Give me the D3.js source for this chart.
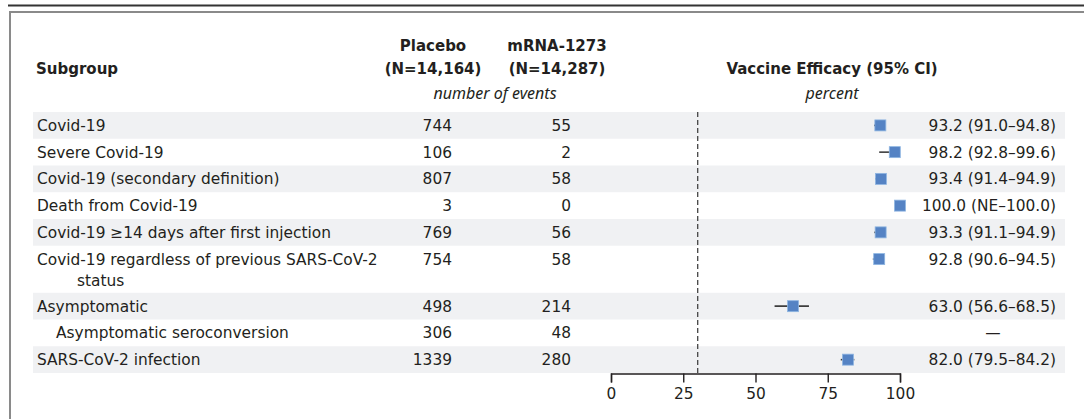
<!DOCTYPE html>
<html>
<head>
<meta charset="utf-8">
<script src="https://cdn.jsdelivr.net/npm/d3@7"></script>
<style>
  body { margin: 0; background: #fff; }
  svg text { font-family: "DejaVu Sans", sans-serif; fill: #231f20; }
  svg text.it { font-family: "Noto Sans", sans-serif; font-style: italic; }
</style>
</head>
<body>
<div id="chart"></div>
<script>
// data
const subgroups = [
    "Covid-19",
    "Severe Covid-19",
    "Covid-19 (secondary definition)",
    "Death from Covid-19",
    "Covid-19 \u226514 days after first injection",
    "Covid-19 regardless of previous SARS-CoV-2|status",
    "Asymptomatic",
    "Asymptomatic seroconversion",
    "SARS-CoV-2 infection"
];
const indent = [0, 0, 0, 0, 0, 0, 0, 1, 0];
const placeboEvents = [744, 106, 807, 3, 769, 754, 498, 306, 1339];
const vaccineEvents = [55, 2, 58, 0, 56, 58, 214, 48, 280];
const efficacy = [93.2, 98.2, 93.4, 100.0, 93.3, 92.8, 63.0, null, 82.0];
const ciLow = [91.0, 92.8, 91.4, null, 91.1, 90.6, 56.6, null, 79.5];
const ciHigh = [94.8, 99.6, 94.9, 100.0, 94.9, 94.5, 68.5, null, 84.2];
const efficacyLabels = [
    "93.2 (91.0\u201394.8)",
    "98.2 (92.8\u201399.6)",
    "93.4 (91.4\u201394.9)",
    "100.0 (NE\u2013100.0)",
    "93.3 (91.1\u201394.9)",
    "92.8 (90.6\u201394.5)",
    "63.0 (56.6\u201368.5)",
    "\u2014",
    "82.0 (79.5\u201384.2)"
];
const axisTicks = [0, 25, 50, 75, 100];
const thresholdLine = 30;

const width = 1084, height = 419;
const svg = d3.select('#chart').append('svg')
    .attr('width', width)
    .attr('height', height);

// frame
svg.append('line').attr('x1', 8).attr('x2', width).attr('y1', 5.5).attr('y2', 5.5)
    .attr('stroke', '#333').attr('stroke-width', 2);
svg.append('path').attr('d', `M${width},12 H10 V${height}`)
    .attr('fill', 'none').attr('stroke', '#8a8a8a').attr('stroke-width', 2);

// rows: the wrapped row takes a bit more room
const rowUnits = subgroups.map(s => s.includes('|') ? 1.76 : 1);
const rowStart = [0, ...d3.cumsum(rowUnits)];
const yScale = d3.scaleLinear()
    .domain([0, rowStart[rowStart.length - 1]])
    .range([112, 373]);

const xScale = d3.scaleLinear().domain([0, 100]).range([611, 900]);

// stripes
const rows = svg.append('g');
subgroups.forEach((s, i) => {
    if (i % 2 === 0) {
        rows.append('rect')
            .attr('x', 33).attr('width', 1032)
            .attr('y', yScale(rowStart[i]))
            .attr('height', yScale(rowStart[i + 1]) - yScale(rowStart[i]))
            .attr('fill', '#f0f1f3');
    }
});

// headers
const hdr = svg.append('g').attr('font-size', 15);
hdr.append('text').attr('x', 36).attr('y', 74).attr('font-weight', 'bold').text('Subgroup');
hdr.append('text').attr('x', 433).attr('y', 51).attr('text-anchor', 'middle').attr('font-weight', 'bold').text('Placebo');
hdr.append('text').attr('x', 433).attr('y', 74).attr('text-anchor', 'middle').attr('font-weight', 'bold').text('(N=14,164)');
hdr.append('text').attr('x', 557).attr('y', 51).attr('text-anchor', 'middle').attr('font-weight', 'bold').text('mRNA-1273');
hdr.append('text').attr('x', 557).attr('y', 74).attr('text-anchor', 'middle').attr('font-weight', 'bold').text('(N=14,287)');
hdr.append('text').attr('class', 'it').attr('x', 495).attr('y', 99).attr('text-anchor', 'middle').attr('font-size', 16).text('number of events');
hdr.append('text').attr('x', 832).attr('y', 74).attr('text-anchor', 'middle').attr('font-weight', 'bold').text('Vaccine Efficacy (95% CI)');
hdr.append('text').attr('class', 'it').attr('x', 832).attr('y', 99).attr('text-anchor', 'middle').attr('font-size', 16).text('percent');

// row text
const txt = svg.append('g').attr('font-size', 15.4);
subgroups.forEach((s, i) => {
    const parts = s.split('|');
    const y0 = yScale(rowStart[i]) + 13.4 + 5.5;
    txt.append('text').attr('x', 37 + indent[i] * 19).attr('y', y0).text(parts[0]);
    if (parts[1]) {
        txt.append('text').attr('x', 77).attr('y', y0 + 21).text(parts[1]);
    }
    txt.append('text').attr('x', 452).attr('y', y0).attr('text-anchor', 'end').text(placeboEvents[i]);
    txt.append('text').attr('x', 571).attr('y', y0).attr('text-anchor', 'end').text(vaccineEvents[i]);
    if (efficacy[i] === null) {
        txt.append('text').attr('x', 993).attr('y', y0).attr('text-anchor', 'middle').text(efficacyLabels[i]);
    } else {
        txt.append('text').attr('x', 1056).attr('y', y0).attr('text-anchor', 'end').text(efficacyLabels[i]);
    }
});

// threshold
svg.append('line')
    .attr('x1', xScale(thresholdLine)).attr('x2', xScale(thresholdLine))
    .attr('y1', 112).attr('y2', 373)
    .attr('stroke', '#444').attr('stroke-width', 1.3)
    .attr('stroke-dasharray', '5,3');

// CIs and points
const marks = svg.append('g');
subgroups.forEach((s, i) => {
    if (efficacy[i] === null) return;
    const yc = yScale(rowStart[i]) + 13.4;
    if (ciLow[i] !== null) {
        marks.append('line')
            .attr('x1', xScale(ciLow[i])).attr('x2', xScale(ciHigh[i]))
            .attr('y1', yc).attr('y2', yc)
            .attr('stroke', '#3d3d3d').attr('stroke-width', 1.6);
    }
    marks.append('rect')
        .attr('x', xScale(efficacy[i]) - 5.5).attr('y', yc - 5.5)
        .attr('width', 11).attr('height', 11)
        .attr('fill', '#5583c4').attr('stroke', '#8fb6e2').attr('stroke-width', 0.8);
});

// axis
const xAxis = d3.axisBottom(xScale).tickValues(axisTicks).tickSize(9).tickPadding(6).tickFormat(d3.format('d'));
const ax = svg.append('g')
    .attr('transform', 'translate(0,373.5)')
    .call(xAxis);
ax.select('.domain').attr('stroke', '#231f20').attr('stroke-width', 1.4);
ax.selectAll('.tick line').attr('stroke', '#231f20').attr('stroke-width', 1.4);
ax.selectAll('.tick text').attr('font-size', 15.4).attr('fill', '#231f20')
    .attr('font-family', '"DejaVu Sans", sans-serif');
</script>
</body>
</html>
